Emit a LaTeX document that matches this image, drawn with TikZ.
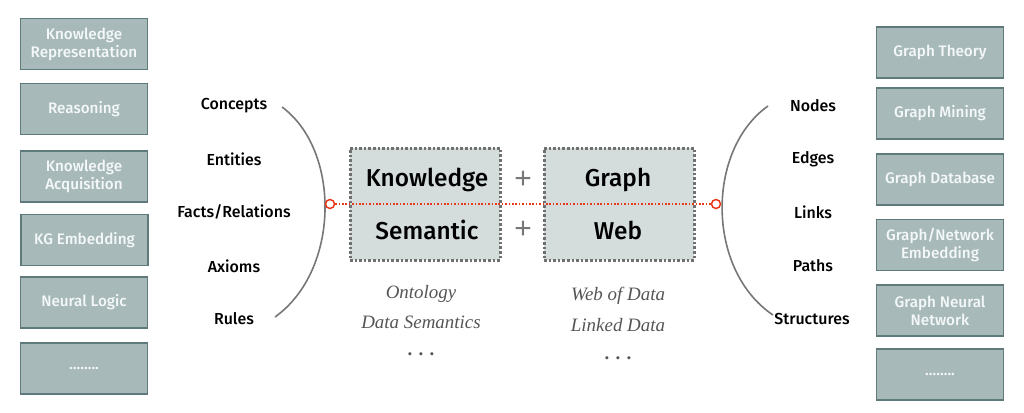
\documentclass[tikz,border=0pt]{standalone}
\usepackage{fontspec}
\setmainfont{Fira Sans}
\newfontfamily\itfont{Liberation Serif}
\newfontface\medium{Fira Sans Medium}
\newfontface\plusfont{Liberation Sans}
\begin{document}
\begin{tikzpicture}[x=1bp,y=-1bp,
  sidebox/.style={draw=boxline,fill=boxfill,line width=1.3bp,minimum width=127bp,minimum height=51bp,
    inner sep=0pt,text=boxtext,align=center,font=\medium\fontsize{15.3}{18}\selectfont},
  centerbox/.style={draw=dotgray,fill=centerfill,line width=3bp,dash pattern=on 2.6bp off 2bp,
    minimum width=150bp,minimum height=112bp,inner sep=0pt},
  bigword/.style={font=\medium\fontsize{24.5}{28}\selectfont,text=black},
  plus/.style={font=\plusfont\fontsize{30}{30}\selectfont,text=plusgray},
  term/.style={font=\medium\fontsize{16}{18}\selectfont,text=black},
  italabel/.style={font=\itfont\itshape\fontsize{19}{22}\selectfont,text=itgray},
  dots/.style={font=\itfont\bfseries\fontsize{19}{22}\selectfont,text=itgray},
  arcline/.style={draw=arcgray,line width=1.6bp},
  ring/.style={circle,draw=redline,fill=white,line width=1.5bp,minimum size=9bp,inner sep=0pt},
  redlink/.style={draw=redline,line width=1.8bp,dash pattern=on 1.6bp off 1.8bp}
]
\definecolor{boxfill}{HTML}{A8B9B9}
\definecolor{boxline}{HTML}{5E7A7B}
\definecolor{boxtext}{HTML}{F4F8F8}
\definecolor{centerfill}{HTML}{D4DCDC}
\definecolor{dotgray}{HTML}{707070}
\definecolor{plusgray}{HTML}{777777}
\definecolor{itgray}{HTML}{555555}
\definecolor{arcgray}{HTML}{777777}
\definecolor{redline}{HTML}{E8391D}
\useasboundingbox[fill=white] (0,0) rectangle (1024,412);

% left boxes
\node[sidebox] (l1) at (84,44) {Knowledge\\Representation};
\node[sidebox] (l2) at (84,109) {Reasoning};
\node[sidebox] (l3) at (84,176.5) {Knowledge\\Acquisition};
\node[sidebox] (l4) at (84.5,240) {KG Embedding};
\node[sidebox] (l5) at (84,302.5) {Neural Logic};
\node[sidebox] (l6) at (84,368.5) {\textellipsis\textellipsis..};

% right boxes
\node[sidebox] (r1) at (940,52.5) {Graph Theory};
\node[sidebox] (r2) at (940,113.5) {Graph Mining};
\node[sidebox] (r3) at (940,179.5) {Graph Database};
\node[sidebox] (r4) at (940,245) {Graph/Network\\Embedding};
\node[sidebox] (r5) at (940,310.5) {Graph Neural\\Network};
\node[sidebox] (r6) at (940,374.5) {\textellipsis\textellipsis..};

% left terms
\node[term] (t1) at (234,106) {Concepts};
\node[term] (t2) at (234,159) {Entities};
\node[term] (t3) at (234,212) {Facts/Relations};
\node[term] (t4) at (234,266) {Axioms};
\node[term] (t5) at (234,319) {Rules};

% right terms
\node[term] (u1) at (813,106) {Nodes};
\node[term] (u2) at (813,159) {Edges};
\node[term] (u3) at (813,212) {Links};
\node[term] (u4) at (813,266) {Paths};
\node[term] (u5) at (812,319) {Structures};

% arcs
\coordinate (la) at (282,107);
\coordinate (lb) at (275,317);
\coordinate (ra) at (768,106);
\coordinate (rb) at (773,315);
\draw[arcline] (la) .. controls (340.5,150) and (340.5,270) .. (lb);
\draw[arcline] (ra) .. controls (706,150) and (706,270) .. (rb);

% center boxes
\node[centerbox] (kb) at (425,204) {};
\node[centerbox] (gb) at (619,204) {};
\node[bigword] (k) at (427,180) {Knowledge};
\node[bigword] (s) at (427,230) {Semantic};
\node[bigword] (g) at (618,180) {Graph};
\node[bigword] (w) at (618,230) {Web};
\node[plus] (p1) at (523,180) {+};
\node[plus] (p2) at (523,230) {+};

% red link
\node[ring] (cl) at (330,204) {};
\node[ring] (cr) at (716,204) {};
\draw[redlink] (cl) -- (cr);

% italic labels
\node[italabel] (o1) at (421,294) {Ontology};
\node[italabel] (o2) at (421,322) {Data Semantics};
\node[dots] (o3) at (421,354) {.\,\,.\,\,.};
\node[italabel] (w1) at (618,296) {Web of Data};
\node[italabel] (w2) at (618,325) {Linked Data};
\node[dots] (w3) at (618,358) {.\,\,.\,\,.};
\end{tikzpicture}
\end{document}
